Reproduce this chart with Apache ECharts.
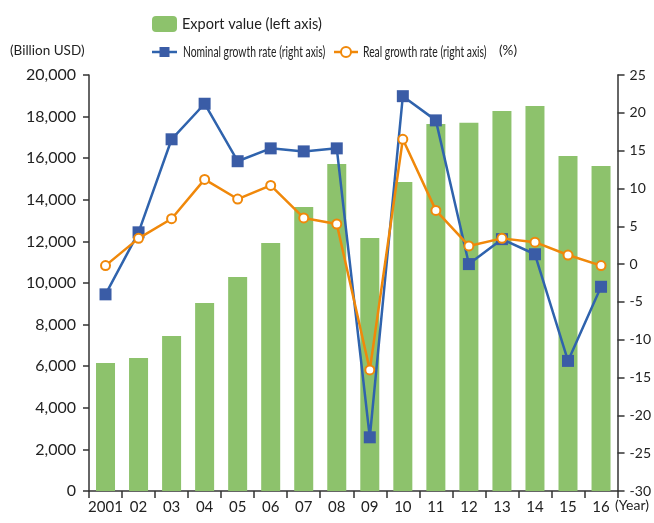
<!DOCTYPE html>
<html>
<head>
<meta charset="utf-8">
<script src="https://cdn.jsdelivr.net/npm/echarts@6/dist/echarts.min.js"></script>
<style>
html, body { margin: 0; padding: 0; background: #fff; }
#main { width: 654px; height: 523px; }
</style>
</head>
<body>
<div id="main"></div>
<script>
var years = ['2001', '02', '03', '04', '05', '06', '07', '08', '09', '10', '11', '12', '13', '14', '15', '16'];
var exportValue = [6150, 6400, 7450, 9040, 10290, 11920, 13650, 15720, 12160, 14860, 17650, 17700, 18270, 18510, 16110, 15630];
var nominalGrowth = [-4.0, 4.2, 16.5, 21.2, 13.6, 15.3, 14.9, 15.3, -22.9, 22.2, 19.0, 0.0, 3.3, 1.3, -12.8, -3.0];
var realGrowth = [-0.2, 3.4, 6.0, 11.2, 8.6, 10.4, 6.1, 5.3, -14.0, 16.5, 7.1, 2.4, 3.4, 2.9, 1.2, -0.2];

var font = 'Lato, "Liberation Sans", sans-serif';
var blue = '#2f63ad';
var orange = '#f0880a';

var myChart = echarts.init(document.getElementById('main'));

// the two line entries of the legend are drawn by hand so the text can be condensed
var lineLegend = [
  { type: 'line', shape: { x1: 152, y1: 52, x2: 177, y2: 52 }, style: { stroke: blue, lineWidth: 2.5 } },
  { type: 'rect', shape: { x: 159.5, y: 47, width: 10, height: 10 }, style: { fill: '#3a5ca6' } },
  { type: 'text', x: 183, y: 52, scaleX: 0.69, style: { text: 'Nominal growth rate (right axis)', fontSize: 15, fill: '#222', fontFamily: font, textVerticalAlign: 'middle' } },
  { type: 'line', shape: { x1: 334, y1: 52, x2: 358, y2: 52 }, style: { stroke: orange, lineWidth: 2.5 } },
  { type: 'circle', shape: { cx: 346, cy: 52, r: 5 }, style: { fill: '#fff', stroke: orange, lineWidth: 2 } },
  { type: 'text', x: 363, y: 52, scaleX: 0.69, style: { text: 'Real growth rate (right axis)', fontSize: 15, fill: '#222', fontFamily: font, textVerticalAlign: 'middle' } }
];

var option = {
  textStyle: { fontFamily: font },
  legend: {
    data: ['Export value (left axis)'],
    left: 147, top: 11,
    itemWidth: 25, itemHeight: 16, itemGap: 8,
    textStyle: { fontSize: 14.5, color: '#222', fontFamily: font }
  },
  graphic: lineLegend.concat([
    { type: 'text', left: 10, top: 44, style: { text: '(Billion USD)', fontSize: 13.5, fill: '#222', fontFamily: font } },
    { type: 'text', left: 499, top: 44, style: { text: '(%)', fontSize: 13.5, fill: '#222', fontFamily: font } },
    { type: 'text', left: 615, top: 498, style: { text: '(Year)', fontSize: 14, fill: '#222', fontFamily: font } }
  ]),
  grid: { left: 89, right: 36, top: 75, bottom: 32 },
  xAxis: {
    type: 'category',
    data: years,
    boundaryGap: true,
    axisLine: { lineStyle: { color: '#333', width: 1.5 } },
    axisTick: { show: true, length: 7, interval: 0, lineStyle: { color: '#333', width: 1.5 } },
    axisLabel: { color: '#222', fontSize: 15, margin: 9, interval: 0, fontFamily: font }
  },
  yAxis: [
    {
      type: 'value',
      min: 0, max: 20000, interval: 2000,
      splitLine: { show: false },
      axisLine: { show: true, lineStyle: { color: '#333', width: 1.5 } },
      axisTick: { show: true, length: 6, lineStyle: { color: '#333', width: 1.5 } },
      axisLabel: {
        color: '#222', fontSize: 16, margin: 13, fontFamily: font,
        formatter: function (v) { return v.toLocaleString('en-US'); }
      }
    },
    {
      type: 'value',
      min: -30, max: 25, interval: 5,
      position: 'right',
      splitLine: { show: false },
      axisLine: { show: true, lineStyle: { color: '#333', width: 1.5 } },
      axisTick: { show: true, length: 7, lineStyle: { color: '#333', width: 1.5 } },
      axisLabel: { color: '#222', fontSize: 14, margin: 12, fontFamily: font }
    }
  ],
  series: [
    {
      name: 'Export value (left axis)',
      type: 'bar',
      data: exportValue,
      barWidth: 19,
      itemStyle: { color: '#8dc26c' },
      yAxisIndex: 0
    },
    {
      name: 'Nominal growth rate (right axis)',
      type: 'line',
      data: nominalGrowth,
      yAxisIndex: 1,
      symbol: 'rect',
      symbolSize: 12,
      lineStyle: { color: blue, width: 2.5 },
      itemStyle: { color: '#3a5ca6' },
      z: 3
    },
    {
      name: 'Real growth rate (right axis)',
      type: 'line',
      data: realGrowth,
      yAxisIndex: 1,
      symbol: 'circle',
      symbolSize: 9,
      lineStyle: { color: orange, width: 2.5 },
      itemStyle: { color: '#fff', borderColor: orange, borderWidth: 2 },
      z: 4
    }
  ]
};

myChart.setOption(option);
window.onresize = function () {
  myChart.resize();
};
</script>
</body>
</html>
